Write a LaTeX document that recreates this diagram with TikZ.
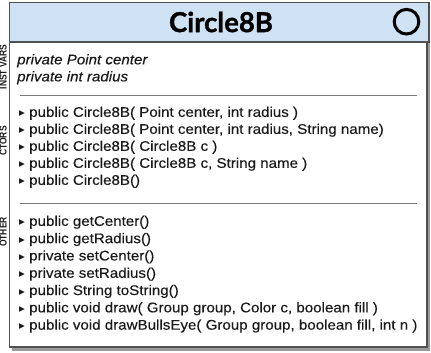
\documentclass[tikz,border=0pt]{standalone}
\usepackage{fontspec}
\setmainfont{Liberation Sans}[FakeStretch=1.08, FakeBold=0.25]
\newfontfamily\titlefont{Lato}[BoldFeatures={FakeBold=1.2}]
\newfontfamily\symfont{DejaVu Sans}
\newfontfamily\labelfont{Liberation Sans}[FakeStretch=0.85]
\definecolor{headblue}{HTML}{CFE2F3}
\definecolor{ink}{HTML}{1A1A1A}
\definecolor{rulegray}{HTML}{7A7A7A}
\definecolor{framegray}{HTML}{505050}
\definecolor{shadowgray}{HTML}{9A9A9A}
\newcommand\bul{\makebox[10pt][l]{\raisebox{0pt}{\symfont\fontsize{11.5}{11.5}\selectfont ▸}}}
\tikzset{
  member/.style={anchor=west, inner sep=0pt, text=ink, text height=9.5pt, text depth=2.8pt,
    font=\fontsize{14}{15}\selectfont},
  field/.style={member, font=\fontsize{14}{15}\selectfont\itshape},
  sidelabel/.style={rotate=90, inner sep=0pt, text=ink, font=\labelfont\bfseries\fontsize{10}{10}\selectfont},
  divider/.style={draw=rulegray, line width=0.9pt},
}
\begin{document}
\begin{tikzpicture}[x=1pt,y=-1pt]
\useasboundingbox (0,0) rectangle (431,353);
% box with shadow
\fill[shadowgray] (12,6) rectangle (430,350.5);
\draw[framegray, line width=1.1pt, fill=white] (9.5,2.5) rectangle (427,347);
\draw[framegray, line width=1.1pt, fill=headblue] (9.5,2.5) rectangle (429,42);
% header
\node[font=\titlefont\bfseries\fontsize{27.5}{27.5}\selectfont, text=black, inner sep=0pt] (title) at (221,22) {Circle8B};
\draw[black, line width=3pt] (406.5,21.7) circle (12.3);
% section labels
\node[sidelabel] (lblvars) at (3.2,67) {INST VARS};
\node[sidelabel] (lblctors) at (3.2,141) {CTORS};
\node[sidelabel] (lblother) at (3.2,232) {OTHER};
% instance variables
\node[field] (f1) at (17,61) {private Point center};
\node[field] (f2) at (17,78) {private int radius};
\draw[divider] (20,95) -- (417,95);
% constructors
\node[member] (c1) at (19,113.5) {\bul public Circle8B( Point center, int radius )};
\node[member] (c2) at (19,130.5) {\bul public Circle8B( Point center, int radius, String name)};
\node[member] (c3) at (19,147.5) {\bul public Circle8B( Circle8B c )};
\node[member] (c4) at (19,164.5) {\bul public Circle8B( Circle8B c, String name )};
\node[member] (c5) at (19,181.5) {\bul public Circle8B()};
\draw[divider] (20,203) -- (417,203);
% other methods
\node[member] (m1) at (19,222.5) {\bul public getCenter()};
\node[member] (m2) at (19,239.8) {\bul public getRadius()};
\node[member] (m3) at (19,257.1) {\bul private setCenter()};
\node[member] (m4) at (19,274.4) {\bul private setRadius()};
\node[member] (m5) at (19,291.7) {\bul public String toString()};
\node[member] (m6) at (19,309) {\bul public void draw( Group group, Color c, boolean fill )};
\node[member] (m7) at (19,326.3) {\bul public void drawBullsEye( Group group, boolean fill, int n )};
\end{tikzpicture}
\end{document}
